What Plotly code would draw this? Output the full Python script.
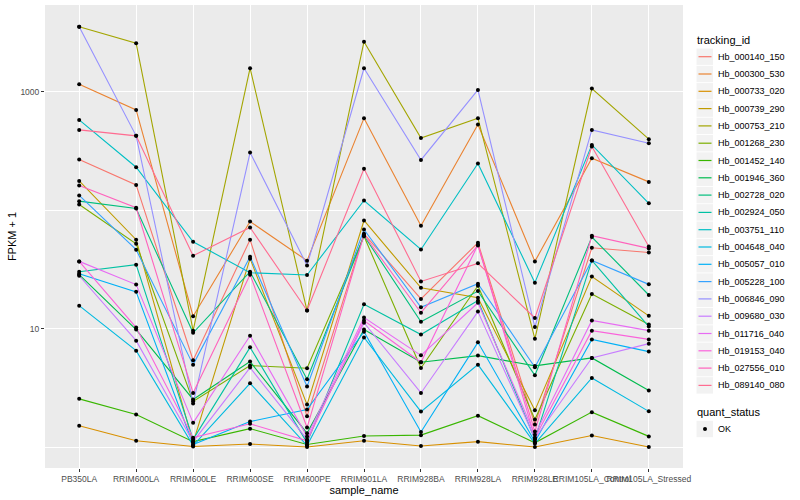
import plotly.graph_objects as go

samples = ["PB350LA", "RRIM600LA", "RRIM600LE", "RRIM600SE", "RRIM600PE",
           "RRIM901LA", "RRIM928BA", "RRIM928LA", "RRIM928LE",
           "RRIM105LA_Control", "RRIM105LA_Stressed"]

tracking_ids = ["Hb_000140_150", "Hb_000300_530", "Hb_000733_020", "Hb_000739_290",
                "Hb_000753_210", "Hb_001268_230", "Hb_001452_140", "Hb_001946_360",
                "Hb_002728_020", "Hb_002924_050", "Hb_003751_110", "Hb_004648_040",
                "Hb_005057_010", "Hb_005228_100", "Hb_006846_090", "Hb_009680_030",
                "Hb_011716_040", "Hb_019153_040", "Hb_027556_010", "Hb_089140_080"]

colors = ["#F8766D", "#EA8331", "#D89000", "#C09B00", "#A3A500", "#7CAE00", "#39B600",
          "#00BB4E", "#00BF7D", "#00C1A3", "#00BFC4", "#00BAE0", "#00B0F6", "#35A2FF",
          "#9590FF", "#C77CFF", "#E76BF3", "#FA62DB", "#FF62BC", "#FF6C91"]

quant_status = ["OK"]

# FPKM + 1 per sample (order of `samples`)
Hb_000140_150 = [267, 163, 5.40, 56.2, 1.82, 63.1, 17.8, 53.0, 1.55, 48.1, 43.9]
Hb_000300_530 = [1154, 701, 12.7, 80.0, 37.4, 597, 73.7, 527, 36.9, 274, 173]
Hb_000733_020 = [1.51, 1.13, 1.01, 1.06, 1.00, 1.13, 1.02, 1.11, 1.00, 1.25, 1.00]
Hb_000739_290 = [176, 56.2, 1.09, 38.9, 2.28, 81.7, 22.1, 18.2, 2.04, 27.5, 12.8]
Hb_000753_210 = [3530, 2559, 9.6, 1575, 14.2, 2640, 405, 597, 8.2, 1060, 397]
Hb_001268_230 = [111.5, 52.0, 2.43, 4.87, 4.62, 60.1, 4.65, 23.0, 1.71, 19.6, 10.8]
Hb_001452_140 = [2.55, 1.88, 1.11, 1.43, 1.05, 1.24, 1.26, 1.84, 1.085, 1.97, 1.23]
Hb_001946_360 = [28.5, 9.8, 2.52, 5.26, 1.31, 9.8, 5.19, 5.91, 4.84, 5.65, 3.00]
Hb_002728_020 = [119, 103, 9.2, 30.2, 3.73, 60.7, 11.4, 20.7, 4.03, 59.2, 19.2]
Hb_002924_050 = [30.2, 34.6, 1.16, 6.94, 1.09, 16.0, 8.9, 17.2, 1.16, 37.6, 10.4]
Hb_003751_110 = [577, 230, 54.0, 29.6, 28.3, 120.5, 46.5, 247, 24.4, 355, 114]
Hb_004648_040 = [15.6, 6.51, 1.03, 3.45, 1.03, 8.4, 1.99, 4.96, 1.07, 3.83, 2.00]
Hb_005057_010 = [29.0, 20.4, 1.05, 1.64, 2.07, 9.4, 1.34, 7.65, 1.11, 8.1, 6.39]
Hb_005228_100 = [133, 46.3, 4.96, 40.4, 3.24, 68.6, 15.1, 23.9, 4.71, 37.6, 23.6]
Hb_006846_090 = [3530, 423, 2.33, 306, 34.1, 1575, 265, 1033, 10.3, 475, 367]
Hb_009680_030 = [27.9, 7.9, 1.11, 4.68, 1.16, 11.2, 2.86, 13.9, 1.18, 5.65, 7.46]
Hb_011716_040 = [36.9, 23.5, 1.60, 8.7, 1.23, 12.4, 5.94, 16.5, 1.27, 11.7, 9.6]
Hb_019153_040 = [36.9, 10.2, 1.20, 1.57, 1.13, 11.7, 5.19, 51.0, 1.20, 9.6, 8.1]
Hb_027556_010 = [161, 104.6, 2.86, 28.5, 1.46, 61.9, 13.6, 50.3, 1.35, 60.7, 47.5]
Hb_089140_080 = [475, 423, 41.2, 71.3, 14.2, 223, 25.0, 35.5, 12.3, 344, 49.3]

series = [Hb_000140_150, Hb_000300_530, Hb_000733_020, Hb_000739_290, Hb_000753_210,
          Hb_001268_230, Hb_001452_140, Hb_001946_360, Hb_002728_020, Hb_002924_050,
          Hb_003751_110, Hb_004648_040, Hb_005057_010, Hb_005228_100, Hb_006846_090,
          Hb_009680_030, Hb_011716_040, Hb_019153_040, Hb_027556_010, Hb_089140_080]

y_ticks = [10, 1000]
y_minor = [1, 100]

FONT = "Liberation Sans, Arial, sans-serif"
W, H = 800, 500
ML, MR, MT, MB = 45, 117, 5, 32
PW, PH = W - ML - MR, H - MT - MB


def px(xp):
    return (xp - ML) / PW


def py(yp):
    return (H - MB - yp) / PH


fig = go.Figure()
for name, vals, col in zip(tracking_ids, series, colors):
    fig.add_trace(go.Scatter(x=samples, y=vals, mode="lines", name=name,
                             line=dict(color=col, width=1.1), showlegend=False))

all_x, all_y = [], []
for vals in series:
    all_x.extend(samples)
    all_y.extend(vals)
fig.add_trace(go.Scatter(x=all_x, y=all_y, mode="markers", name=quant_status[0],
                         marker=dict(color="black", size=4, symbol="circle"),
                         showlegend=False))

# ggplot-style legends drawn as shapes + text
shapes, annotations = [], []
annotations.append(dict(text="tracking_id", x=px(695), y=py(40), xref="paper", yref="paper",
                        xanchor="left", yanchor="middle", showarrow=False,
                        font=dict(size=11, color="black")))
step = 17.3
y0 = 56.7
for i, (name, col) in enumerate(zip(tracking_ids, colors)):
    c = y0 + step * i
    shapes.append(dict(type="rect", xref="paper", yref="paper",
                       x0=px(696.5), x1=px(713), y0=py(c - 8.2), y1=py(c + 8.2),
                       fillcolor="#F2F2F2", line=dict(width=0), layer="above"))
    shapes.append(dict(type="line", xref="paper", yref="paper",
                       x0=px(698.5), x1=px(711.5), y0=py(c), y1=py(c),
                       line=dict(color=col, width=1.2), layer="above"))
    annotations.append(dict(text=name, x=px(716), y=py(c), xref="paper", yref="paper",
                            xanchor="left", yanchor="middle", showarrow=False,
                            font=dict(size=9, color="black")))

annotations.append(dict(text="quant_status", x=px(695), y=py(412), xref="paper", yref="paper",
                        xanchor="left", yanchor="middle", showarrow=False,
                        font=dict(size=11, color="black")))
cq = 429
shapes.append(dict(type="rect", xref="paper", yref="paper",
                   x0=px(696.5), x1=px(713), y0=py(cq - 8.2), y1=py(cq + 8.2),
                   fillcolor="#F2F2F2", line=dict(width=0), layer="above"))
shapes.append(dict(type="circle", xref="paper", yref="paper",
                   x0=px(703), x1=px(707), y0=py(cq + 2), y1=py(cq - 2),
                   fillcolor="black", line=dict(width=0), layer="above"))
annotations.append(dict(text=quant_status[0], x=px(716), y=py(cq), xref="paper", yref="paper",
                        xanchor="left", yanchor="middle", showarrow=False,
                        font=dict(size=9, color="black")))

fig.update_layout(
    width=W, height=H,
    margin=dict(l=ML, r=MR, t=MT, b=MB),
    paper_bgcolor="white", plot_bgcolor="#EBEBEB",
    font=dict(family=FONT, color="black", size=11),
    showlegend=False,
    shapes=shapes, annotations=annotations,
    xaxis=dict(type="category", categoryorder="array", categoryarray=samples,
               range=[-0.6, 10.6], showgrid=True, gridcolor="white", gridwidth=1.1,
               zeroline=False, ticks="outside", ticklen=3, tickcolor="#333333",
               tickangle=0, tickfont=dict(size=8.5, color="#4D4D4D"),
               title=dict(text="sample_name", font=dict(size=11), standoff=1),
               showline=False, automargin=False),
    yaxis=dict(type="log", range=[-0.177, 3.731], tickmode="array",
               tickvals=y_ticks, ticktext=[str(v) for v in y_ticks],
               showgrid=True, gridcolor="white", gridwidth=1.1, zeroline=False,
               ticks="outside", ticklen=3, tickcolor="#333333",
               tickfont=dict(size=8.5, color="#4D4D4D"),
               minor=dict(tickmode="array", tickvals=y_minor, showgrid=True,
                          gridcolor="white", gridwidth=0.5, ticks=""),
               title=dict(text="FPKM + 1", font=dict(size=11), standoff=1),
               showline=False, automargin=False),
)

fig.write_html("out.html", config={"displayModeBar": False},
               post_script="document.body.style.margin='0px';")
